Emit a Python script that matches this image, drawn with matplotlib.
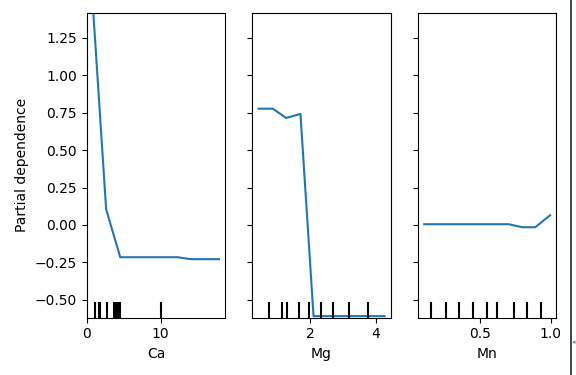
import numpy as np
import matplotlib
matplotlib.use("Agg")
import matplotlib.pyplot as plt
from matplotlib.lines import Line2D

# partial dependence curves
ca_x = [0.85, 2.63, 4.54, 12.3, 14.1, 17.9]
ca_pd = [1.45, 0.105, -0.215, -0.215, -0.228, -0.228]
ca_deciles = [1.15, 1.6, 1.8, 2.75, 3.7, 4.0, 4.25, 4.5, 10.0]

mg_x = [0.42, 0.855, 1.26, 1.70, 2.10, 4.27]
mg_pd = [0.776, 0.776, 0.714, 0.741, -0.608, -0.608]
mg_deciles = [0.75, 1.13, 1.29, 1.65, 1.95, 2.33, 2.71, 3.19, 3.78]

mn_x = [0.107, 0.705, 0.798, 0.891, 0.996]
mn_pd = [0.005, 0.005, -0.015, -0.015, 0.065]
mn_deciles = [0.154, 0.263, 0.352, 0.449, 0.547, 0.623, 0.744, 0.833, 0.930]

features = ["Ca", "Mg", "Mn"]
xs = [ca_x, mg_x, mn_x]
pds = [ca_pd, mg_pd, mn_pd]
deciles = [ca_deciles, mg_deciles, mn_deciles]
xticks = [[0, 10], [2, 4], [0.5, 1.0]]
yticks = [-0.5, -0.25, 0.0, 0.25, 0.5, 0.75, 1.0, 1.25]

fig = plt.figure(figsize=(5.76, 3.75), dpi=100)
axes = []
for i in range(3):
    ax = fig.add_axes([0.1505 + i * 0.2875, 0.153, 0.2405, 0.813])
    axes.append(ax)

for i, ax in enumerate(axes):
    ax.plot(xs[i], pds[i], color="C0", lw=1.5)
    trans = matplotlib.transforms.blended_transform_factory(ax.transData, ax.transAxes)
    ax.vlines(deciles[i], 0, 0.05, transform=trans, color="k", lw=1.5)
    ax.set_ylim(-0.618, 1.416)
    ax.set_yticks(yticks)
    ax.set_xticks(xticks[i])
    ax.set_xlabel(features[i])
    if i > 0:
        ax.set_yticklabels([])

axes[0].set_ylabel("Partial dependence")

# screenshot edge artefact on the right
fig.add_artist(Line2D([570.5 / 576, 570.5 / 576], [0, 1], color="#1c2a35", lw=1.2,
                      transform=fig.transFigure))
fig.text(573.5 / 576, 1 - 342 / 375, "\u25c2", fontsize=5, color="#888888",
         ha="center", va="center")

fig.savefig("out.png", dpi=100)
